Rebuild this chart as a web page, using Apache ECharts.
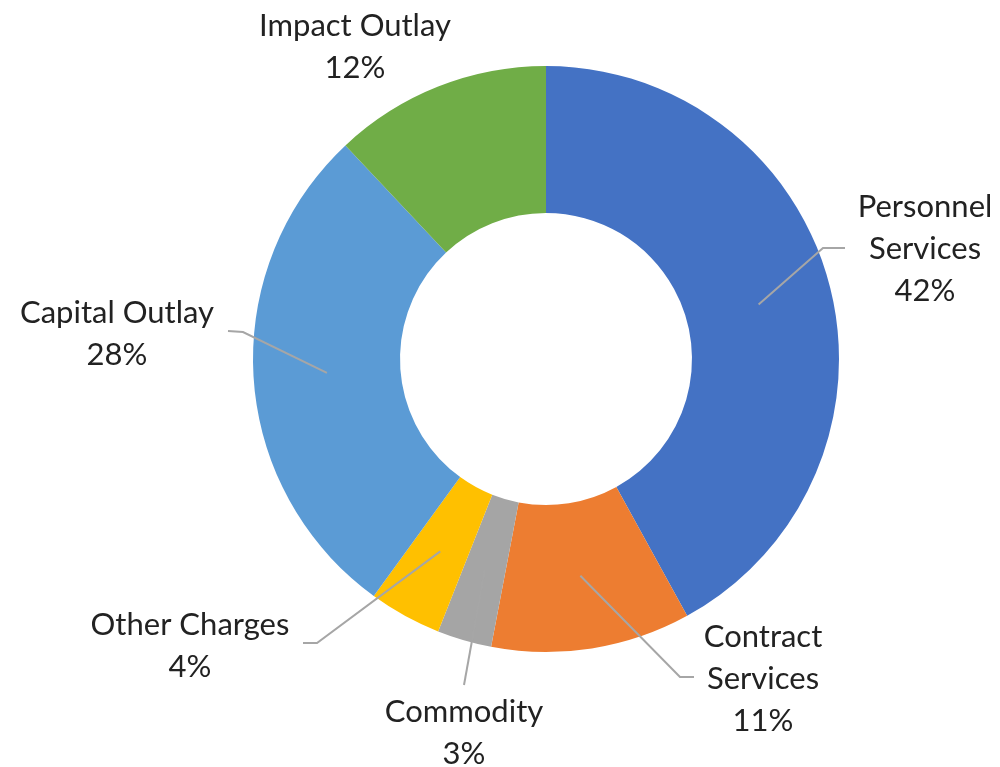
<!DOCTYPE html>
<html>
<head>
<meta charset="utf-8">
<title>Budget by Category</title>
<script src="https://cdn.jsdelivr.net/npm/echarts@6/dist/echarts.min.js"></script>
<style>
  html, body { margin: 0; padding: 0; background: #ffffff; }
  #chart { width: 1000px; height: 767px; }
</style>
</head>
<body>
<div id="chart"></div>
<script>
// Budget categories, clockwise from 12 o'clock
const categories = ['Personnel Services', 'Contract Services', 'Commodity', 'Other Charges', 'Capital Outlay', 'Impact Outlay'];
// Share of the total budget, percent
const shares = [42, 11, 3, 4, 28, 12];
// How each category name wraps in its label
const labelNames = ['Personnel\nServices', 'Contract\nServices', 'Commodity', 'Other Charges', 'Capital Outlay', 'Impact Outlay'];

const palette = ['#4472C4', '#ED7D31', '#A5A5A5', '#FFC000', '#5B9BD5', '#70AD47'];

// Label placement: text centre, elbow and end of each leader line (null = no leader)
const labelPlacement = [
  { x: 925, y: 249, elbow: [823, 248], end: [845, 248] },
  { x: 763, y: 679, elbow: [680, 677], end: [694, 677] },
  { x: 464, y: 733, elbow: [464, 685], end: [464, 685] },
  { x: 190, y: 646, elbow: [317, 643], end: [303, 643] },
  { x: 117, y: 334, elbow: [243, 332], end: [228, 331] },
  { x: 355, y: 47, elbow: null, end: null }
];

const PIE_CENTER = [546, 359];
const PIE_RADIUS = [146, 293];

const chart = echarts.init(document.getElementById('chart'));

// Point in the middle of a slice's ring, taken from the pie's own layout
function sliceMidPoint(seriesIndex, idx) {
  const data = chart.getModel().getSeriesByIndex(seriesIndex).getData();
  const l = data.getItemLayout(idx);
  const a = (l.startAngle + l.endAngle) / 2;
  const r = (l.r + l.r0) / 2;
  return [l.cx + r * Math.cos(a), l.cy + r * Math.sin(a)];
}

// Filled ring slices
const sliceData = categories.map((name, i) => ({
  name: name,
  value: shares[i],
  itemStyle: { color: palette[i] }
}));

// Same slices, invisible, carrying the labels so their leader lines sit above the ring
const labelData = categories.map((name, i) => ({
  name: name,
  value: shares[i],
  labelLine: { show: labelPlacement[i].end !== null }
}));

chart.setOption({
  backgroundColor: '#ffffff',
  animation: false,
  series: [
    {
      type: 'pie',
      z: 2,
      center: PIE_CENTER,
      radius: PIE_RADIUS,
      startAngle: 90,
      clockwise: true,
      data: sliceData,
      itemStyle: { borderWidth: 0 },
      label: { show: false },
      labelLine: { show: false },
      emphasis: { disabled: true },
      silent: true
    },
    {
      type: 'pie',
      z: 4,
      center: PIE_CENTER,
      radius: PIE_RADIUS,
      startAngle: 90,
      clockwise: true,
      avoidLabelOverlap: false,
      data: labelData,
      itemStyle: { color: 'rgba(0,0,0,0)', borderWidth: 0 },
      label: {
        show: true,
        position: 'outside',
        formatter: (p) => labelNames[p.dataIndex] + '\n' + p.value + '%',
        fontFamily: 'Lato',
        fontSize: 31,
        lineHeight: 42,
        color: '#222222',
        align: 'center'
      },
      labelLine: {
        show: true,
        length: 10,
        length2: 10,
        lineStyle: { color: '#A6A6A6', width: 2 }
      },
      labelLayout: function (params) {
        const i = params.dataIndex;
        const pl = labelPlacement[i];
        const out = { x: pl.x, y: pl.y, align: 'center', verticalAlign: 'middle' };
        if (pl.end) {
          out.labelLinePoints = [sliceMidPoint(1, i), pl.elbow, pl.end];
        }
        return out;
      },
      emphasis: { disabled: true },
      silent: true
    }
  ]
});
</script>
</body>
</html>
